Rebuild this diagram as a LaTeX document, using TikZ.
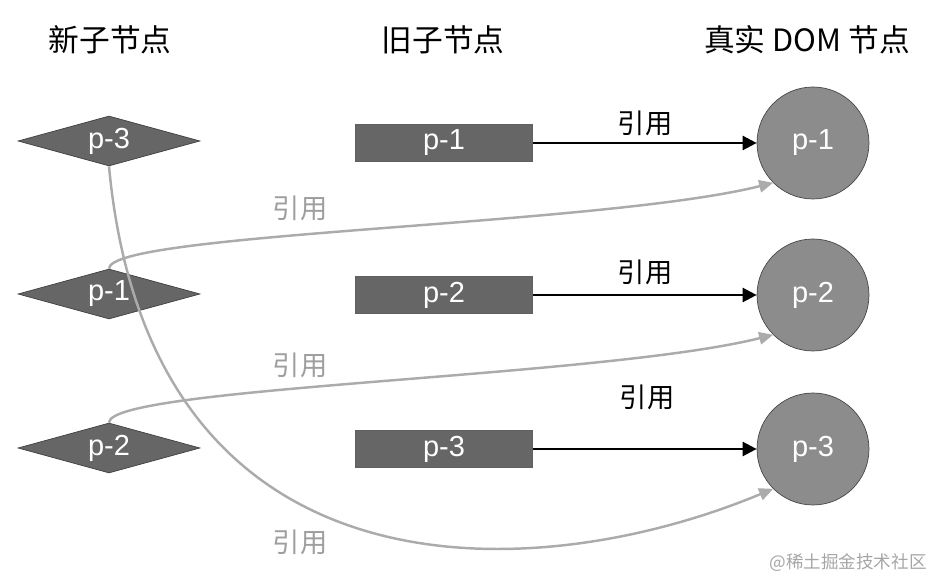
\documentclass[tikz,border=0pt]{standalone}
\usepackage{fontspec}
\setmainfont{Liberation Sans}
\newfontfamily\cjk{Noto Sans CJK SC}
\usetikzlibrary{shapes.geometric,arrows.meta}

\begin{document}
\begin{tikzpicture}[x=0.02cm,y=0.02cm,
    pfont/.style={text=white,font=\fontsize{16.5}{16.5}\selectfont},
    newnode/.style={diamond,draw=black!75,fill=black!60,aspect=3.64,minimum width=3.64cm,minimum height=1cm,inner sep=0pt,pfont},
    oldnode/.style={rectangle,draw=black!62,fill=black!60,minimum width=3.54cm,minimum height=0.74cm,inner sep=0pt,pfont},
    domnode/.style={circle,draw=black!72,fill=black!45,minimum size=2.24cm,inner sep=0pt,pfont},
    head/.style={font=\cjk\fontsize{17.5}{20}\selectfont},
    reflabel/.style={font=\cjk\fontsize{15.5}{18}\selectfont},
    greylabel/.style={reflabel,text=black!38},
    oldref/.style={line width=1.4pt,-{Triangle[length=8pt,width=8pt]}},
    newref/.style={line width=1.4pt,draw=black!33,-{Triangle[length=8pt,width=7pt]}}]
          \useasboundingbox (0,0) rectangle (934,578);
          \node[head] (hnew) at (110,538) {新子节点};
          \node[head] (hold) at (443,538) {旧子节点};
          \node[head] (hdom) at (807,538) {真实 DOM 节点};
          \node[newnode] (n3) at (109,437) {p-3};
          \node[newnode] (n1) at (109,284) {p-1};
          \node[newnode] (n2) at (109,130) {p-2};
          \node[oldnode] (o1) at (444,435) {p-1};
          \node[oldnode] (o2) at (444,283) {p-2};
          \node[oldnode] (o3) at (444,129) {p-3};
          \node[domnode] (d1) at (813,435) {p-1};
          \node[domnode] (d2) at (813,283) {p-2};
          \node[domnode] (d3) at (813,129) {p-3};
            \draw[oldref] (o1) -- (d1);
            \draw[oldref] (o2) -- (d2);
            \draw[oldref] (o3) -- (d3);
            \node[reflabel] (r1) at (645,455) {引用};
            \node[reflabel] (r2) at (645,306) {引用};
            \node[reflabel] (r3) at (647,181) {引用};
            \draw[newref] (n1.north) .. controls +(0,36) and +(-173,-43) .. (d1.225);
            \draw[newref] (n2.north) .. controls +(0,36) and +(-173,-43) .. (d2.225);
            \draw[newref] (n3.south) .. controls +(41,-440) and +(-240,-100) .. (d3.225);
            \node[greylabel] (g1) at (300,370) {引用};
            \node[greylabel] (g2) at (300,213) {引用};
            \node[greylabel] (g3) at (300,36) {引用};
          \node[text=black!35,font=\cjk\fontsize{10}{12}\selectfont] (mark) at (848,15) {@稀土掘金技术社区};
\end{tikzpicture}
\end{document}
